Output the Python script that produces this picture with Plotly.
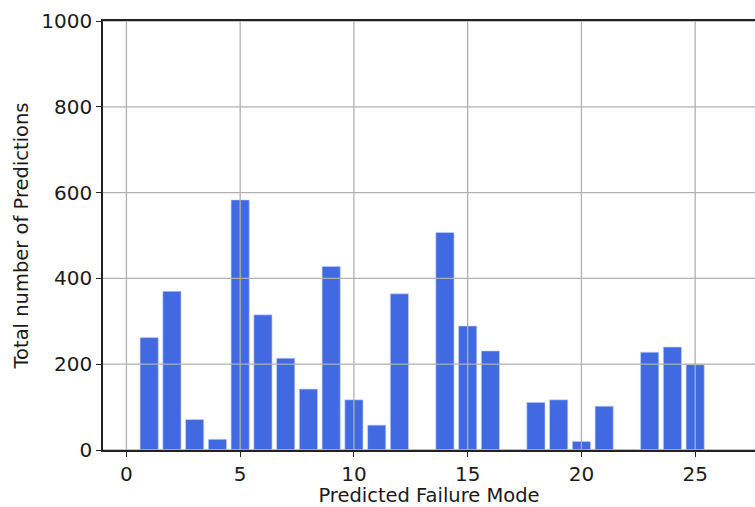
import plotly.graph_objects as go

modes = list(range(1, 26))
counts = [262, 370, 71, 25, 583, 315, 214, 142, 428, 117, 58, 364, 0,
          507, 289, 231, 0, 111, 117, 20, 102, 0, 228, 240, 199]
x_ticks = [0, 5, 10, 15, 20, 25]
y_ticks = [0, 200, 400, 600, 800, 1000]
x_title = "Predicted Failure Mode"
y_title = "Total number of Predictions"

fig = go.Figure()
fig.add_trace(go.Bar(
    x=modes, y=counts, width=0.8,
    marker=dict(color="#4169E1", line=dict(color="rgba(200,210,250,0.8)", width=0.8)),
))

grid_color = "#b0b0b0"
shapes = []
for t in x_ticks:
    shapes.append(dict(type="line", xref="x", yref="paper", x0=t, x1=t, y0=0, y1=1,
                       line=dict(color=grid_color, width=1.3), layer="above"))
for t in y_ticks:
    shapes.append(dict(type="line", xref="paper", yref="y", x0=0, x1=1, y0=t, y1=t,
                       line=dict(color=grid_color, width=1.3), layer="above"))

font = "DejaVu Sans, sans-serif"
fig.update_layout(
    width=755, height=507,
    margin=dict(l=103, r=0, t=21, b=57),
    plot_bgcolor="white", paper_bgcolor="white",
    showlegend=False,
    shapes=shapes,
    font=dict(family=font, color="#1a1a1a"),
    xaxis=dict(
        range=[-1.03, 27.63], tickvals=x_ticks, ticktext=[str(v) for v in x_ticks],
        showgrid=False, zeroline=False,
        showline=True, linecolor="#222", linewidth=1.5, mirror=True,
        ticks="outside", ticklen=5, tickwidth=1.3, tickcolor="#222",
        tickfont=dict(size=20, family=font),
        title=dict(text=x_title, font=dict(size=19.5, family=font), standoff=6),
        layer="above traces",
    ),
    yaxis=dict(
        range=[0, 1000], tickvals=y_ticks, ticktext=[str(v) for v in y_ticks],
        showgrid=False, zeroline=False,
        showline=True, linecolor="#222", linewidth=1.5,
        ticks="outside", ticklen=5, tickwidth=1.3, tickcolor="#222",
        tickfont=dict(size=20, family=font),
        title=dict(text=y_title, font=dict(size=19.5, family=font), standoff=8),
        layer="above traces",
    ),
)

fig.write_html("out.html")
